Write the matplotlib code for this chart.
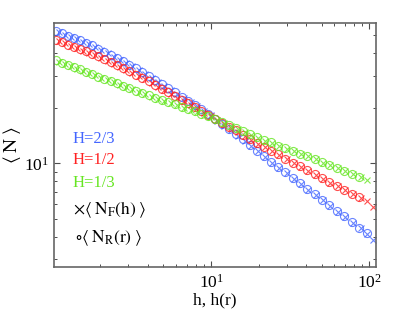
import matplotlib
matplotlib.use("Agg")
import matplotlib.pyplot as plt
from matplotlib.ticker import LogLocator, NullFormatter, FixedLocator, LogFormatterSciNotation

plt.rcParams['font.family'] = ['Liberation Serif', 'DejaVu Serif']
plt.rcParams['mathtext.fontset'] = 'stix'

# ---- data ----
h_r = [1.05, 1.15, 1.25, 1.36, 1.49, 1.62, 1.77, 1.94, 2.12, 2.32, 2.54, 2.78, 3.05, 3.35,
       3.68, 4.04, 4.44, 4.88, 5.37, 5.91, 6.51, 7.17, 7.9, 8.7, 9.6, 10.6, 11.7, 12.9,
       14.3, 15.8, 17.5, 19.4, 21.5, 23.9, 26.5, 29.4, 32.7, 36.4, 40.5, 45.1, 50.2,
       55.9, 62.3, 69.5, 77.5, 86.5, 96.5]
h_f = [1.10, 1.20, 1.31, 1.43, 1.56, 1.70, 1.86, 2.03, 2.22, 2.43, 2.66, 2.91, 3.19, 3.50,
       3.84, 4.21, 4.62, 5.08, 5.58, 6.14, 6.75, 7.43, 8.18, 9.01, 9.93, 10.95, 12.1, 13.3,
       14.7, 16.3, 18.0, 19.9, 22.0, 24.4, 27.0, 30.0, 33.3, 37.0, 41.1, 45.7, 50.9, 56.7,
       63.2, 70.5, 78.7, 87.9, 97.0, 106.0]

NR_H23 = [52.7, 51.1, 49.5, 48.1, 46.6, 45.2, 43.8, 42.0, 40.4, 38.8, 37.3, 35.9, 34.4, 32.9,
          31.3, 29.9, 28.4, 27.0, 25.7, 24.4, 23.1, 21.9, 20.7, 19.7, 18.6, 17.5, 16.4, 15.4,
          14.4, 13.5, 12.6, 11.7, 11.0, 10.2, 9.57, 8.93, 8.34, 7.78, 7.26, 6.78, 6.34, 5.92,
          5.52, 5.14, 4.80, 4.47, 4.17]
NR_H12 = [46.9, 45.5, 44.3, 43.1, 41.8, 40.6, 39.4, 38.2, 36.8, 35.5, 34.1, 32.9, 31.6, 30.4,
          29.2, 27.9, 26.7, 25.5, 24.3, 23.2, 22.2, 21.2, 20.2, 19.3, 18.4, 17.5, 16.6, 15.8,
          15.1, 14.3, 13.6, 12.9, 12.3, 11.7, 11.2, 10.6, 10.1, 9.64, 9.16, 8.73, 8.32, 7.91,
          7.53, 7.19, 6.85, 6.55]
NR_H13 = [36.3, 35.2, 34.3, 33.3, 32.4, 31.5, 30.5, 29.6, 28.8, 28.0, 27.2, 26.4, 25.6, 24.9,
          24.2, 23.4, 22.8, 22.1, 21.5, 20.9, 20.3, 19.8, 19.2, 18.6, 18.0, 17.4, 16.8, 16.2,
          15.6, 15.0, 14.5, 13.9, 13.4, 13.0, 12.5, 12.1, 11.7, 11.3, 10.9, 10.5, 10.2, 9.80,
          9.44, 9.10, 8.79, 8.47]

NF_H23 = [51.9, 50.2, 48.8, 47.2, 45.7, 44.4, 42.8, 41.2, 39.6, 38.0, 36.6, 35.2, 33.7, 32.1,
          30.6, 29.2, 27.8, 26.5, 25.2, 23.9, 22.7, 21.5, 20.4, 19.3, 18.3, 17.1, 16.0, 15.1,
          14.1, 13.2, 12.4, 11.6, 10.8, 10.1, 9.44, 8.81, 8.24, 7.69, 7.19, 6.73, 6.28, 5.86,
          5.47, 5.09, 4.75, 4.43, 4.15, 3.85]
NF_H12 = [46.2, 44.9, 43.6, 42.4, 41.1, 40.0, 38.8, 37.5, 36.1, 34.8, 33.5, 32.2, 31.0, 29.9,
          28.6, 27.4, 26.1, 25.0, 23.9, 22.8, 21.8, 20.8, 19.9, 18.9, 18.1, 17.2, 16.4, 15.6,
          14.9, 14.1, 13.4, 12.8, 12.2, 11.6, 11.1, 10.5, 10.0, 9.55, 9.10, 8.67, 8.26, 7.85,
          7.50, 7.14, 6.81, 6.50, 6.22, 5.82]
NF_H13 = [35.7, 34.8, 33.7, 32.8, 31.8, 31.0, 30.1, 29.2, 28.4, 27.6, 26.8, 26.1, 25.3, 24.5,
          23.8, 23.1, 22.5, 21.9, 21.3, 20.7, 20.1, 19.5, 19.0, 18.4, 17.8, 17.2, 16.6, 16.0,
          15.4, 14.9, 14.3, 13.8, 13.3, 12.9, 12.5, 12.0, 11.6, 11.2, 10.9, 10.5, 10.1, 9.75,
          9.40, 9.06, 8.73, 8.43, 8.15]

labels = ['H=2/3', 'H=1/2', 'H=1/3']
colors = ['#4466ff', '#ff2222', '#66e622']
NR = [NR_H23, NR_H12, NR_H13]
NF = [NF_H23, NF_H12, NF_H13]

fig = plt.figure(figsize=(4.15, 3.13), dpi=100)
ax = fig.add_axes([54/415, 1 - 267.3/313, 322/415, 244.3/313])

for nr, nf, c in zip(NR, NF, colors):
    ax.plot(h_r[:len(nr)], nr, linestyle='none', marker='o', ms=5.8, mfc='none',
            mec=c, mew=0.8, alpha=0.8)
    ax.plot(h_f[:len(nf)], nf, linestyle='none', marker='x', ms=4.2,
            mec=c, mew=0.8, alpha=0.8)

ax.set_xscale('log')
ax.set_yscale('log')
ax.set_xlim(1.02, 110)
ax.set_ylim(2.72, 58)

ax.xaxis.set_major_locator(FixedLocator([10, 100]))
ax.xaxis.set_major_formatter(LogFormatterSciNotation())
ax.xaxis.set_minor_locator(LogLocator(base=10, subs=range(2, 10)))
ax.xaxis.set_minor_formatter(NullFormatter())
ax.yaxis.set_major_locator(FixedLocator([10]))
ax.yaxis.set_major_formatter(LogFormatterSciNotation())
ax.yaxis.set_minor_locator(LogLocator(base=10, subs=range(2, 10)))
ax.yaxis.set_minor_formatter(NullFormatter())

ax.tick_params(which='both', direction='in', top=True, right=True, colors='0.3',
               labelcolor='black', labelsize=12.5)
ax.tick_params(which='major', length=4, width=0.8)
ax.tick_params(which='minor', length=2.5, width=0.7)
ax.tick_params(axis='x', pad=5)
for s in ax.spines.values():
    s.set_color('0.4')
    s.set_linewidth(1.2)

ax.set_xlabel('h, h(r)', fontsize=12.5, labelpad=0)
ax.set_ylabel(r'$\langle\;\mathrm{N}\;\rangle$', fontsize=14, labelpad=1)

ty = [0.525, 0.439, 0.345]
for lab, c, y in zip(labels, colors, ty):
    ax.text(0.058, y, lab, color=c, fontsize=12, transform=ax.transAxes, va='center')
ax.text(0.058, 0.235, r'$\times\langle\;\mathrm{N_{F}(h)}\;\rangle$', fontsize=12.5,
        transform=ax.transAxes, va='center')
ax.text(0.064, 0.12, r'$\circ\langle\;\mathrm{N_{R}(r)}\;\rangle$', fontsize=12.5,
        transform=ax.transAxes, va='center')

fig.savefig('out.png', dpi=100)
